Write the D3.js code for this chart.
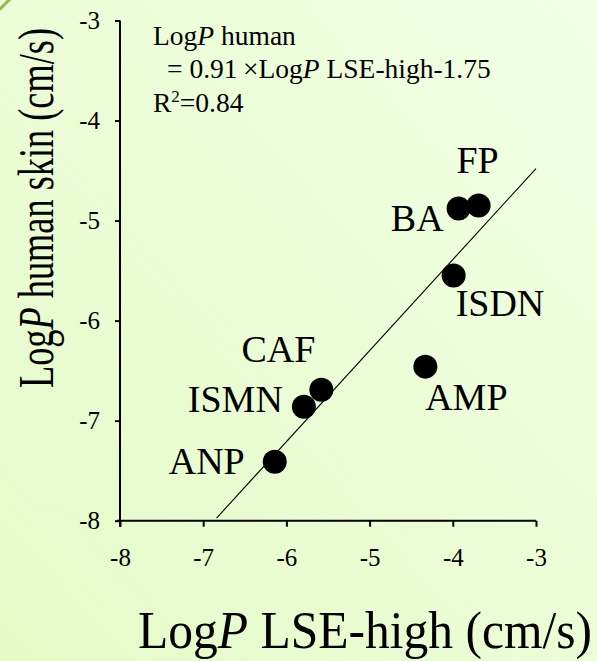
<!DOCTYPE html>
<html>
<head>
<meta charset="utf-8">
<script src="https://cdn.jsdelivr.net/npm/d3@7"></script>
<style>
  html, body { margin: 0; padding: 0; }
  svg { display: block; }
  text { font-family: "Liberation Serif", "Times New Roman", serif; fill: #000; }
</style>
</head>
<body>
<svg id="chart" width="597" height="661"></svg>
<script>
// data
const compounds = ["FP", "BA", "ISDN", "AMP", "CAF", "ISMN", "ANP"];
const logPLSE = [-3.69, -3.93, -3.99, -4.33, -5.58, -5.79, -6.14];
const logPSkin = [-4.85, -4.88, -5.55, -6.46, -6.69, -6.86, -7.41];
const xTicks = [-8, -7, -6, -5, -4, -3];
const yTicks = [-8, -7, -6, -5, -4, -3];
const fitSlope = 0.91;
const fitIntercept = -1.75;
const fitRange = [-6.84, -3];

const width = 597, height = 661;
const serif = '"Liberation Serif", "Times New Roman", serif';
const svg = d3.select("#chart").attr("font-family", serif);

// background
const defs = svg.append("defs");
const grad = defs.append("linearGradient")
    .attr("id", "bg")
    .attr("x1", 0).attr("y1", 1).attr("x2", 1).attr("y2", 0);
grad.append("stop").attr("offset", "0%").attr("stop-color", "#e4fbc7");
grad.append("stop").attr("offset", "100%").attr("stop-color", "#f1ffe5");
svg.append("rect").attr("width", width).attr("height", height).attr("fill", "url(#bg)");
svg.append("line")
    .attr("x1", -2).attr("y1", 11).attr("x2", 11).attr("y2", -2)
    .attr("stroke", "#8fba4e").attr("stroke-width", 3);

const x = d3.scaleLinear().domain([-8, -3]).range([120, 536]);
const y = d3.scaleLinear().domain([-8, -3]).range([520.7, 20.5]);

// axes
const xAxis = svg.append("g")
    .attr("transform", `translate(0,${y(-8)})`)
    .call(d3.axisBottom(x).tickValues(xTicks).tickSize(6).tickSizeOuter(0).tickFormat(d => String(d)));
const yAxis = svg.append("g")
    .attr("transform", `translate(${x(-8)},0)`)
    .call(d3.axisLeft(y).tickValues(yTicks).tickSize(5).tickSizeOuter(0).tickPadding(15).tickFormat(d => String(d)));

[xAxis, yAxis].forEach(a => {
    a.attr("font-family", serif).attr("font-size", 25);
    a.select(".domain").attr("stroke", "#000").attr("stroke-width", 2);
    a.selectAll(".tick line").attr("stroke", "#000").attr("stroke-width", 2);
    a.selectAll(".tick text")
        .attr("fill", "#000")
        .style("font-size", "25px");
});
xAxis.selectAll(".tick text").attr("y", 45).attr("dy", 0);
// extend the domains to meet at the corner
xAxis.select(".domain").attr("d", `M${x(-8) - 3},0H${x(-3)}`);
yAxis.select(".domain").attr("d", `M0,${y(-8) + 6}V${y(-3)}`);

// regression line
svg.append("line")
    .attr("x1", x(fitRange[0])).attr("y1", y(fitSlope * fitRange[0] + fitIntercept))
    .attr("x2", x(fitRange[1])).attr("y2", y(fitSlope * fitRange[1] + fitIntercept))
    .attr("stroke", "#000").attr("stroke-width", 1.1);

// points
const points = compounds.map((c, i) => ({ name: c, lse: logPLSE[i], skin: logPSkin[i] }));
svg.append("g").selectAll("circle")
    .data(points)
    .join("circle")
    .attr("cx", d => x(d.lse))
    .attr("cy", d => y(d.skin))
    .attr("r", 12)
    .attr("fill", "#000");

// label placement relative to the marker
const labelPos = {
    FP:   { dx: -1,  dy: -33, anchor: "middle" },
    BA:   { dx: -15, dy: 22,  anchor: "end" },
    ISDN: { dx: 2,   dy: 40,  anchor: "start" },
    AMP:  { dx: 41,  dy: 43,  anchor: "middle" },
    CAF:  { dx: -43, dy: -28, anchor: "middle" },
    ISMN: { dx: -21, dy: 5,   anchor: "end" },
    ANP:  { dx: -30, dy: 12,  anchor: "end" }
};
svg.append("g").selectAll("text")
    .data(points)
    .join("text")
    .attr("x", d => x(d.lse) + labelPos[d.name].dx)
    .attr("y", d => y(d.skin) + labelPos[d.name].dy)
    .attr("text-anchor", d => labelPos[d.name].anchor)
    .style("font-size", "38px")
    .text(d => d.name);

// equation annotation
const ann = svg.append("g").style("font-size", "27.5px");
const l1 = ann.append("text").attr("x", 153).attr("y", 45);
l1.append("tspan").text("Log");
l1.append("tspan").style("font-style", "italic").text("P");
l1.append("tspan").text(" human");
const l2 = ann.append("text").attr("x", 167).attr("y", 78);
l2.append("tspan").text("= 0.91\u2009\u00D7Log");
l2.append("tspan").style("font-style", "italic").text("P");
l2.append("tspan").text(" LSE-high-1.75");
const l3 = ann.append("text").attr("x", 153).attr("y", 112);
l3.append("tspan").text("R");
l3.append("tspan").attr("dy", -10).style("font-size", "17px").text("2");
l3.append("tspan").attr("dy", 10).text("=0.84");

// axis titles
const xt = svg.append("text")
    .attr("x", 138).attr("y", 648)
    .attr("textLength", 454).attr("lengthAdjust", "spacingAndGlyphs")
    .style("font-size", "52px");
xt.append("tspan").text("Log");
xt.append("tspan").style("font-style", "italic").text("P");
xt.append("tspan").text(" LSE-high (cm/s)");

const yt = svg.append("text")
    .attr("transform", "translate(53,388) rotate(-90)")
    .attr("x", 0).attr("y", 0)
    .attr("textLength", 360).attr("lengthAdjust", "spacingAndGlyphs")
    .style("font-size", "51px");
yt.append("tspan").text("Log");
yt.append("tspan").style("font-style", "italic").text("P");
yt.append("tspan").text(" human skin (cm/s)");
</script>
</body>
</html>
